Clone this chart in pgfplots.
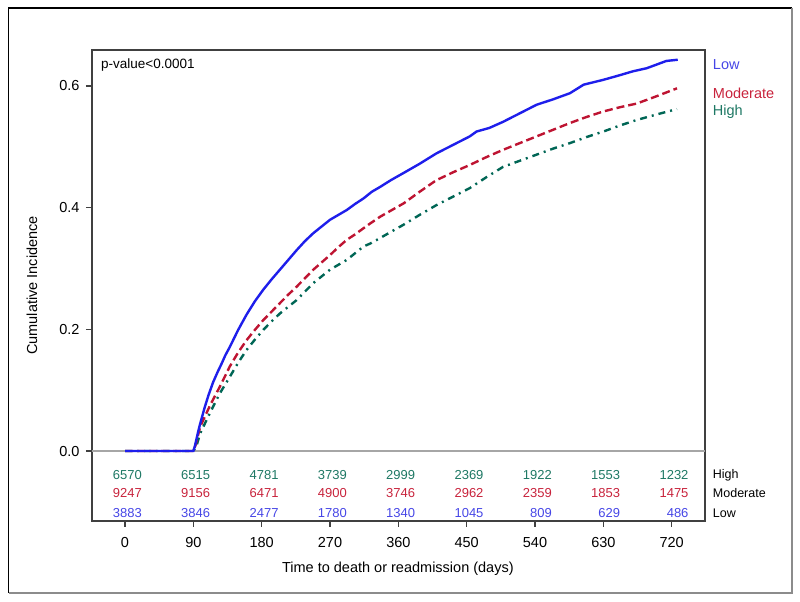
\documentclass[border=0pt]{standalone}
\usepackage{fontspec}
\setmainfont{Liberation Sans}
\usepackage{pgfplots}
\pgfplotsset{compat=1.18}

\definecolor{lowline}{RGB}{30,30,235}
\definecolor{modline}{RGB}{190,20,50}
\definecolor{highline}{RGB}{0,102,85}
\definecolor{lowtxt}{RGB}{70,70,230}
\definecolor{modtxt}{RGB}{200,35,60}
\definecolor{hightxt}{RGB}{30,120,100}

\begin{document}
\begin{tikzpicture}
\useasboundingbox (0,0) rectangle (800pt,602pt);
\begin{axis}[
  scale only axis, width=613pt, height=471pt,
  at={(92pt,81pt)}, anchor=south west,
  xmin=-43.5, xmax=763.9, ymin=-0.115, ymax=0.659,
  xtick={0,90,180,270,360,450,540,630,720},
  ytick={0,0.2,0.4,0.6},
  yticklabel style={/pgf/number format/fixed, /pgf/number format/fixed zerofill, /pgf/number format/precision=1, xshift=-3pt},
  xticklabel style={yshift=-7pt},
  /pgf/number format/assume math mode=true,
  tick align=outside, tick pos=left, major tick length=6pt,
  tick style={black!75, line width=1.2pt},
  axis line style={black!75, line width=1.3pt},
  ticklabel style={font=\fontsize{14.5}{16}\selectfont},
  xlabel={Time to death or readmission (days)},
  ylabel={Cumulative Incidence},
  every axis x label/.style={at={(axis description cs:0.499,-0.102)}, anchor=center, font=\fontsize{14.5}{16}\selectfont},
  every axis y label/.style={at={(axis description cs:-0.098,0.5)}, anchor=center, rotate=90, font=\fontsize{14.5}{16}\selectfont},
  clip=false,
]
% reference line at zero
\addplot[black!35, line width=1.4pt] coordinates {(-43.5,0) (763.9,0)};

% High
\addplot[highline, line width=2.4pt, dash pattern=on 7pt off 5pt on 2pt off 5pt] coordinates {
(0,0) (90,0) (94,0.008) (99,0.029) (112,0.063) (125,0.095) (138,0.122) (149,0.145)
(160,0.166) (171,0.183) (182,0.199) (193,0.213) (204,0.226) (215,0.237) (226,0.248)
(237,0.262) (248,0.276) (259,0.287) (270,0.298) (281,0.306) (292,0.314) (303,0.325)
(314,0.336) (323,0.341) (336,0.350) (350,0.360) (367,0.372) (388,0.388) (410,0.404)
(432,0.418) (454,0.432) (476,0.450) (498,0.467) (520,0.477) (542,0.487) (564,0.497)
(586,0.506) (608,0.516) (630,0.525) (652,0.535) (674,0.544) (700,0.553) (727,0.562)
};
% Moderate
\addplot[modline, line width=2.4pt, dash pattern=on 8pt off 4pt] coordinates {
(0,0) (90,0) (93,0.010) (99,0.040) (112,0.075) (125,0.106) (138,0.139) (149,0.162)
(160,0.182) (171,0.199) (182,0.215) (193,0.229) (204,0.243) (215,0.257) (226,0.270)
(237,0.284) (248,0.298) (259,0.310) (270,0.322) (281,0.335) (292,0.347) (303,0.356)
(314,0.366) (323,0.374) (336,0.385) (350,0.395) (367,0.407) (388,0.426) (410,0.445)
(432,0.458) (454,0.470) (476,0.483) (498,0.495) (520,0.506) (542,0.517) (564,0.528)
(586,0.539) (608,0.549) (630,0.558) (652,0.565) (674,0.571) (700,0.583) (727,0.596)
};
% Low
\addplot[lowline, line width=2.4pt] coordinates {
(0,0) (90,0) (92,0.008) (96,0.030) (99,0.045) (105,0.072) (110,0.092) (116,0.113)
(122,0.130) (127,0.143) (132,0.157) (138,0.171) (149,0.199) (160,0.224) (171,0.246)
(182,0.265) (193,0.282) (204,0.298) (215,0.314)
(226,0.330) (237,0.345) (248,0.358) (259,0.369) (270,0.380) (281,0.388) (292,0.396)
(303,0.406) (314,0.415) (325,0.426) (336,0.434) (350,0.445) (367,0.457) (388,0.472)
(410,0.489) (432,0.503) (454,0.517) (463,0.525) (480,0.531) (498,0.541) (520,0.555)
(542,0.569) (564,0.578) (586,0.588) (604,0.602) (630,0.610) (650,0.617) (669,0.624)
(687,0.629) (700,0.635) (713,0.641) (728,0.643)
};

% numbers at risk
\pgfplotsset{risk/.style={draw=none, mark=none, nodes near coords, point meta=explicit symbolic,
  every node near coord/.append style={anchor=east, xshift=17pt, inner sep=0pt, text=#1,
  font=\fontsize{13}{14}\selectfont}}}
\addplot[risk=hightxt] coordinates {
(0,-0.039) [6570] (90,-0.039) [6515] (180,-0.039) [4781] (270,-0.039) [3739] (360,-0.039) [2999]
(450,-0.039) [2369] (540,-0.039) [1922] (630,-0.039) [1553] (720,-0.039) [1232]
};
\addplot[risk=modtxt] coordinates {
(0,-0.069) [9247] (90,-0.069) [9156] (180,-0.069) [6471] (270,-0.069) [4900] (360,-0.069) [3746]
(450,-0.069) [2962] (540,-0.069) [2359] (630,-0.069) [1853] (720,-0.069) [1475]
};
\addplot[risk=lowtxt] coordinates {
(0,-0.102) [3883] (90,-0.102) [3846] (180,-0.102) [2477] (270,-0.102) [1780] (360,-0.102) [1340]
(450,-0.102) [1045] (540,-0.102) [809] (630,-0.102) [629] (720,-0.102) [486]
};

\node[anchor=west, inner sep=0pt, font=\fontsize{13.5}{15}\selectfont] at (axis description cs:0.0147,0.968) {p-value<0.0001};

\node[anchor=west, inner sep=0pt, text=lowtxt, font=\fontsize{14.5}{16}\selectfont] at (axis description cs:1.0126,0.970) {Low};
\node[anchor=west, inner sep=0pt, text=modtxt, font=\fontsize{14.5}{16}\selectfont] at (axis description cs:1.0126,0.908) {Moderate};
\node[anchor=west, inner sep=0pt, text=hightxt, font=\fontsize{14.5}{16}\selectfont] at (axis description cs:1.0126,0.869) {High};

\node[anchor=west, inner sep=0pt, font=\fontsize{12.5}{14}\selectfont] at (axis description cs:1.0126,0.0977) {High};
\node[anchor=west, inner sep=0pt, font=\fontsize{12.5}{14}\selectfont] at (axis description cs:1.0126,0.0594) {Moderate};
\node[anchor=west, inner sep=0pt, font=\fontsize{12.5}{14}\selectfont] at (axis description cs:1.0126,0.017) {Low};
\end{axis}
\draw[black, line width=1.8pt] (8.5pt,9pt) -- (8.5pt,594pt) -- (792pt,594pt);
\draw[black!45, line width=1.2pt] (792pt,594pt) -- (792pt,9pt) -- (8.5pt,9pt);
\end{tikzpicture}
\end{document}
